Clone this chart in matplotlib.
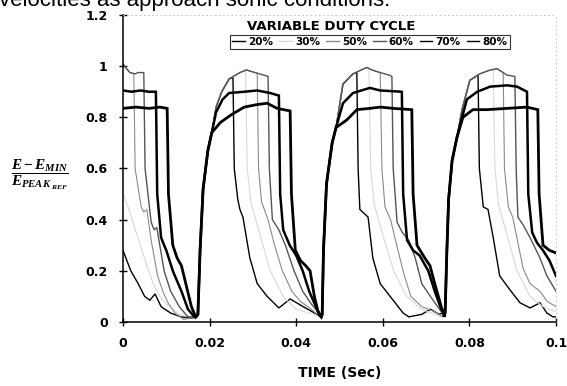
import matplotlib
matplotlib.use('Agg')
import matplotlib.pyplot as plt

# Normalised hot-wire signal, (E - E_min) / E_peak_ref, versus time for each duty cycle.
# Each series is stored per valve cycle: plateau (after the rise) + drop + decay.
RISE_T = [[0.0173, 0.0178, 0.0185, 0.0196, 0.0205],
          [0.0460, 0.0463, 0.0470, 0.0483, 0.0492],
          [0.0744, 0.0748, 0.0752, 0.0760, 0.0771]]
RISE_V = [[0.03, 0.28, 0.52, 0.67, 0.74],
          [0.03, 0.28, 0.54, 0.70, 0.76],
          [0.04, 0.28, 0.48, 0.63, 0.72]]

T20 = [[0, 0.0018, 0.0035, 0.005, 0.0062, 0.0074, 0.0088, 0.011, 0.0134, 0.0157, 0.0170],
       [0.0215, 0.0228, 0.0245, 0.0254, 0.0257, 0.0265, 0.0270, 0.0277, 0.0293, 0.031, 0.0333, 0.036, 0.0386, 0.0416, 0.0448, 0.0458],
       [0.0508, 0.0531, 0.0540, 0.0543, 0.0547, 0.0566, 0.0577, 0.0594, 0.0617, 0.0647, 0.066, 0.069, 0.071, 0.073],
       [0.0783, 0.0801, 0.0820, 0.0823, 0.0832, 0.0843, 0.0855, 0.087, 0.0894, 0.0917, 0.094, 0.0963, 0.0979, 0.0993, 0.1]]
V20 = [[0.28, 0.2, 0.15, 0.1, 0.085, 0.11, 0.06, 0.035, 0.02, 0.015, 0.02],
       [0.84, 0.90, 0.95, 0.955, 0.6, 0.48, 0.44, 0.41, 0.25, 0.15, 0.10, 0.055, 0.09, 0.06, 0.03, 0.02],
       [0.93, 0.97, 0.975, 0.6, 0.44, 0.41, 0.25, 0.15, 0.10, 0.035, 0.02, 0.03, 0.05, 0.03],
       [0.83, 0.945, 0.965, 0.6, 0.45, 0.44, 0.33, 0.18, 0.125, 0.075, 0.055, 0.075, 0.035, 0.02, 0.02]]

T30 = [[0, 0.0012, 0.0025, 0.004, 0.0055, 0.007, 0.0085, 0.01, 0.013, 0.0165],
       [0.0215, 0.0228, 0.0245, 0.027, 0.0283, 0.0287, 0.0295, 0.0315, 0.034, 0.037, 0.040, 0.044, 0.0458],
       [0.0508, 0.0531, 0.0563, 0.0568, 0.0572, 0.058, 0.060, 0.0625, 0.0655, 0.069, 0.0735],
       [0.0783, 0.0801, 0.0824, 0.0848, 0.0855, 0.0859, 0.0867, 0.0887, 0.091, 0.094, 0.097, 0.1]]
V30 = [[0.5, 0.45, 0.38, 0.3, 0.22, 0.15, 0.1, 0.07, 0.03, 0.02],
       [0.84, 0.90, 0.95, 0.975, 0.985, 0.6, 0.47, 0.35, 0.2, 0.1, 0.05, 0.03, 0.02],
       [0.93, 0.97, 0.995, 0.99, 0.6, 0.46, 0.34, 0.2, 0.1, 0.05, 0.02],
       [0.83, 0.945, 0.97, 0.985, 0.987, 0.6, 0.46, 0.34, 0.2, 0.1, 0.06, 0.04]]

T50 = [[0, 0.0008, 0.0016, 0.0025, 0.0028, 0.0042, 0.0048, 0.0055, 0.0065, 0.008, 0.0092, 0.0104, 0.012, 0.014, 0.0170],
       [0.0215, 0.0228, 0.0245, 0.027, 0.0285, 0.0305, 0.031, 0.0313, 0.032, 0.0335, 0.035, 0.0368, 0.039, 0.041, 0.0435, 0.0455],
       [0.0508, 0.0531, 0.0563, 0.0575, 0.0594, 0.0598, 0.0605, 0.0618, 0.0635, 0.065, 0.0665, 0.069, 0.072, 0.0738],
       [0.0783, 0.0801, 0.0824, 0.0848, 0.0864, 0.0878, 0.0881, 0.089, 0.090, 0.0924, 0.094, 0.0963, 0.098, 0.1]]
V50 = [[1.01, 0.99, 0.975, 0.97, 0.6, 0.45, 0.43, 0.44, 0.32, 0.18, 0.12, 0.075, 0.035, 0.01, 0.02],
       [0.84, 0.90, 0.95, 0.975, 0.985, 0.975, 0.972, 0.6, 0.47, 0.4, 0.3, 0.2, 0.12, 0.08, 0.05, 0.02],
       [0.93, 0.97, 0.995, 0.985, 0.975, 0.6, 0.45, 0.4, 0.28, 0.18, 0.1, 0.06, 0.04, 0.02],
       [0.83, 0.945, 0.97, 0.985, 0.99, 0.975, 0.6, 0.45, 0.41, 0.21, 0.15, 0.12, 0.08, 0.06]]

T60 = [[0, 0.0008, 0.0016, 0.0028, 0.0035, 0.0048, 0.0051, 0.0065, 0.0072, 0.0078, 0.0095, 0.011, 0.013, 0.015, 0.0172],
       [0.0215, 0.0228, 0.0245, 0.027, 0.0285, 0.0305, 0.0325, 0.0335, 0.0338, 0.0345, 0.036, 0.0375, 0.0395, 0.0415, 0.0435, 0.0455],
       [0.0508, 0.0531, 0.0563, 0.0575, 0.0594, 0.0615, 0.0621, 0.0624, 0.0633, 0.0645, 0.066, 0.0675, 0.069, 0.071, 0.0735],
       [0.0783, 0.0801, 0.0824, 0.0848, 0.0864, 0.0887, 0.0905, 0.0908, 0.0912, 0.0924, 0.094, 0.0963, 0.0979, 0.1]]
V60 = [[1.01, 0.99, 0.975, 0.97, 0.975, 0.975, 0.6, 0.39, 0.36, 0.37, 0.2, 0.12, 0.06, 0.02, 0.02],
       [0.84, 0.90, 0.95, 0.975, 0.985, 0.975, 0.965, 0.96, 0.6, 0.4, 0.36, 0.3, 0.2, 0.12, 0.07, 0.03],
       [0.93, 0.97, 0.995, 0.985, 0.975, 0.965, 0.96, 0.6, 0.39, 0.35, 0.32, 0.25, 0.15, 0.1, 0.04],
       [0.83, 0.945, 0.97, 0.985, 0.99, 0.965, 0.96, 0.6, 0.41, 0.38, 0.33, 0.25, 0.18, 0.12]]

T70 = [[0, 0.002, 0.004, 0.006, 0.0076, 0.0079, 0.0088, 0.0095, 0.01, 0.0115, 0.0135, 0.015, 0.0165],
       [0.0215, 0.023, 0.0245, 0.028, 0.031, 0.034, 0.036, 0.0363, 0.037, 0.0385, 0.04, 0.0415, 0.043, 0.0448, 0.0458],
       [0.0508, 0.0531, 0.057, 0.0594, 0.0644, 0.0647, 0.0656, 0.067, 0.0685, 0.0705, 0.072, 0.0735],
       [0.0794, 0.0818, 0.0848, 0.0887, 0.091, 0.0933, 0.0936, 0.0945, 0.0956, 0.097, 0.0985, 0.1]]
V70 = [[0.905, 0.9, 0.905, 0.9, 0.9, 0.5, 0.33, 0.3, 0.28, 0.2, 0.12, 0.05, 0.02],
       [0.82, 0.87, 0.895, 0.9, 0.905, 0.895, 0.885, 0.5, 0.36, 0.3, 0.26, 0.2, 0.12, 0.05, 0.02],
       [0.855, 0.895, 0.915, 0.905, 0.9, 0.5, 0.32, 0.28, 0.26, 0.2, 0.12, 0.05],
       [0.87, 0.9, 0.92, 0.925, 0.92, 0.9, 0.5, 0.35, 0.31, 0.28, 0.24, 0.18]]

T80 = [[0, 0.003, 0.006, 0.0085, 0.0102, 0.0105, 0.0115, 0.0125, 0.0135, 0.0145, 0.0158, 0.0168],
       [0.0225, 0.025, 0.028, 0.031, 0.0333, 0.0356, 0.0386, 0.0389, 0.0398, 0.041, 0.0422, 0.0432, 0.0442, 0.0452, 0.0458],
       [0.0517, 0.054, 0.057, 0.0594, 0.0624, 0.0667, 0.067, 0.0679, 0.0697, 0.0709, 0.072, 0.0735, 0.0742],
       [0.0785, 0.0808, 0.084, 0.0887, 0.0933, 0.0958, 0.0961, 0.097, 0.0985, 0.1]]
V80 = [[0.835, 0.84, 0.835, 0.84, 0.835, 0.5, 0.3, 0.25, 0.22, 0.15, 0.06, 0.02],
       [0.78, 0.81, 0.84, 0.85, 0.855, 0.835, 0.825, 0.5, 0.28, 0.24, 0.22, 0.2, 0.1, 0.03, 0.02],
       [0.79, 0.83, 0.835, 0.84, 0.835, 0.83, 0.5, 0.3, 0.25, 0.22, 0.15, 0.06, 0.02],
       [0.8, 0.83, 0.83, 0.835, 0.84, 0.83, 0.5, 0.3, 0.28, 0.27]]

DUTY = ['20%', '30%', '50%', '60%', '70%', '80%']
SERIES = [(T20, V20), (T30, V30), (T50, V50), (T60, V60), (T70, V70), (T80, V80)]
COLORS = ['black', '#d9d9d9', '#8a8a8a', '#555555', 'black', 'black']
WIDTHS = [1.0, 0.8, 0.8, 1.0, 1.8, 2.0]

X_TICKS = [0, 0.02, 0.04, 0.06, 0.08, 0.1]
X_LABELS = ['0', '0.02', '0.04', '0.06', '0.08', '0.1']
Y_TICKS = [0, 0.2, 0.4, 0.6, 0.8, 1.0, 1.2]
Y_LABELS = ['0', '0.2', '0.4', '0.6', '0.8', '1', '1.2']


def join_cycles(ts, vs):
    # cycle 1, then rise + plateau/decay for each following cycle
    t, v = list(ts[0]), list(vs[0])
    for k in range(3):
        t += RISE_T[k] + ts[k + 1]
        v += RISE_V[k] + vs[k + 1]
    return t, v


def main():
    plt.rcParams['mathtext.fontset'] = 'custom'
    plt.rcParams['mathtext.it'] = 'Liberation Serif:italic:bold'
    plt.rcParams['mathtext.rm'] = 'Liberation Serif:bold'

    W, H = 567, 386
    fig = plt.figure(figsize=(W / 100, H / 100), dpi=100)
    ax = fig.add_axes([123 / W, 1 - 322 / H, (556 - 123) / W, (322 - 15) / H])

    for (ts, vs), lab, c, lw in zip(SERIES, DUTY, COLORS, WIDTHS):
        t, v = join_cycles(ts, vs)
        ax.plot(t, v, color=c, lw=lw, label=lab, solid_joinstyle='miter')

    ax.set_xlim(0, 0.1)
    ax.set_ylim(0, 1.2)
    ax.set_xticks(X_TICKS)
    ax.set_xticklabels(X_LABELS)
    ax.set_yticks(Y_TICKS)
    ax.set_yticklabels(Y_LABELS)
    ax.tick_params(direction='inout', length=6, width=1, color='black',
                   labelsize=9, pad=8)
    for lbl in ax.get_xticklabels() + ax.get_yticklabels():
        lbl.set_fontweight('bold')
        lbl.set_family('DejaVu Sans')

    for s in ('left', 'bottom'):
        ax.spines[s].set_linewidth(1.1)
    for s in ('top', 'right'):
        ax.spines[s].set_color('#bbbbbb')
        ax.spines[s].set_linewidth(0.6)
        ax.spines[s].set_linestyle((0, (1, 4)))

    ax.set_xlabel('TIME (Sec)', fontsize=10, fontweight='bold', family='DejaVu Sans', labelpad=11)

    fig.text(40 / W, 1 - 175 / H, r'$\dfrac{E - E_{MIN}}{E_{PEAK_{\ REF}}}$',
             fontsize=11, ha='center', va='center')

    # running text of the page above the figure, cut off at the top
    fig.text(-0.002, 1 - 6 / H, 'velocities as approach sonic conditions.',
             fontsize=16, family='Liberation Sans', va='baseline', ha='left')

    fig.text(331 / W, 1 - 27 / H, 'VARIABLE DUTY CYCLE', fontsize=9.5,
             fontweight='bold', family='DejaVu Sans', ha='center', va='center')
    leg = ax.legend(ncol=6, loc='center', bbox_to_anchor=(370 / W, 1 - 42 / H),
                    bbox_transform=fig.transFigure, frameon=True, fancybox=False,
                    handlelength=1.2, handletextpad=0.3, columnspacing=0.6,
                    borderpad=0.2, borderaxespad=0,
                    prop={'family': 'DejaVu Sans', 'weight': 'bold', 'size': 7.5})
    leg.get_frame().set_edgecolor('black')
    leg.get_frame().set_linewidth(0.8)
    for h in leg.get_lines():
        h.set_linewidth(1.0)

    fig.savefig('out.png', dpi=100)
    plt.close(fig)


if __name__ == '__main__':
    main()
